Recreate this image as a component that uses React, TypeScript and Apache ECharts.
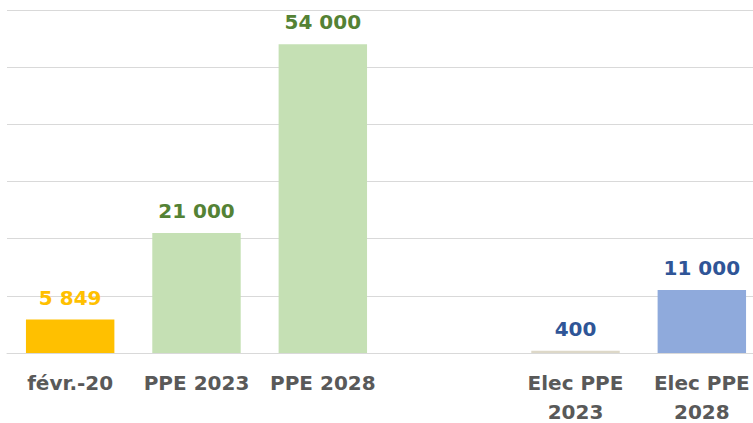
import React, { useEffect, useRef } from "react";
import * as echarts from "echarts";

const categories = ["févr.-20", "PPE 2023", "PPE 2028", "", "Elec PPE\n2023", "Elec PPE\n2028"];
const values: (number | null)[] = [5849, 21000, 54000, null, 400, 11000];
const barColors = ["#FFC000", "#C5E0B4", "#C5E0B4", "#FFFFFF", "#DDD8C8", "#8FAADC"];
const labelColors = ["#FFC000", "#548235", "#548235", "#FFFFFF", "#2F5597", "#2F5597"];

function fmt(v: number): string {
  return String(v).replace(/\B(?=(\d{3})+(?!\d))/g, " ");
}

export default function App() {
  const ref = useRef<HTMLDivElement>(null);
  useEffect(() => {
    if (!ref.current) return;
    const chart = echarts.init(ref.current, null, { renderer: "svg" });
    chart.setOption({
      animation: false,
      grid: { left: 7, top: 10, width: 758, height: 343, containLabel: false, outerBoundsMode: "none" },
      xAxis: {
        type: "category",
        data: categories,
        axisLine: { show: true, lineStyle: { color: "#D9D9D9", width: 1 } },
        axisTick: { show: false },
        axisLabel: {
          interval: 0,
          color: "#595959",
          fontFamily: "DejaVu Sans",
          fontWeight: "bold",
          fontSize: 20,
          lineHeight: 29,
          margin: 15,
        },
      },
      yAxis: {
        type: "value",
        min: 0,
        max: 60000,
        interval: 10000,
        axisLabel: { show: false },
        axisLine: { show: false },
        axisTick: { show: false },
        splitLine: { lineStyle: { color: "#D9D9D9", width: 1 } },
      },
      series: [
        {
          type: "bar",
          barWidth: "70%",
          data: values.map((v, i) => ({
            value: v,
            itemStyle: { color: barColors[i] },
            label: {
              show: v !== null,
              position: "top",
              distance: 12,
              color: labelColors[i],
              fontFamily: "DejaVu Sans",
              fontWeight: "bold",
              fontSize: 20,
              formatter: (p: any) => fmt(p.value),
            },
          })),
        },
      ],
    });
    return () => chart.dispose();
  }, []);
  return (
    <div style={{ position: "absolute", left: 0, top: 0, width: 753, height: 423, overflow: "hidden", background: "#fff" }}>
      <div ref={ref} style={{ width: 753, height: 423 }} />
    </div>
  );
}
